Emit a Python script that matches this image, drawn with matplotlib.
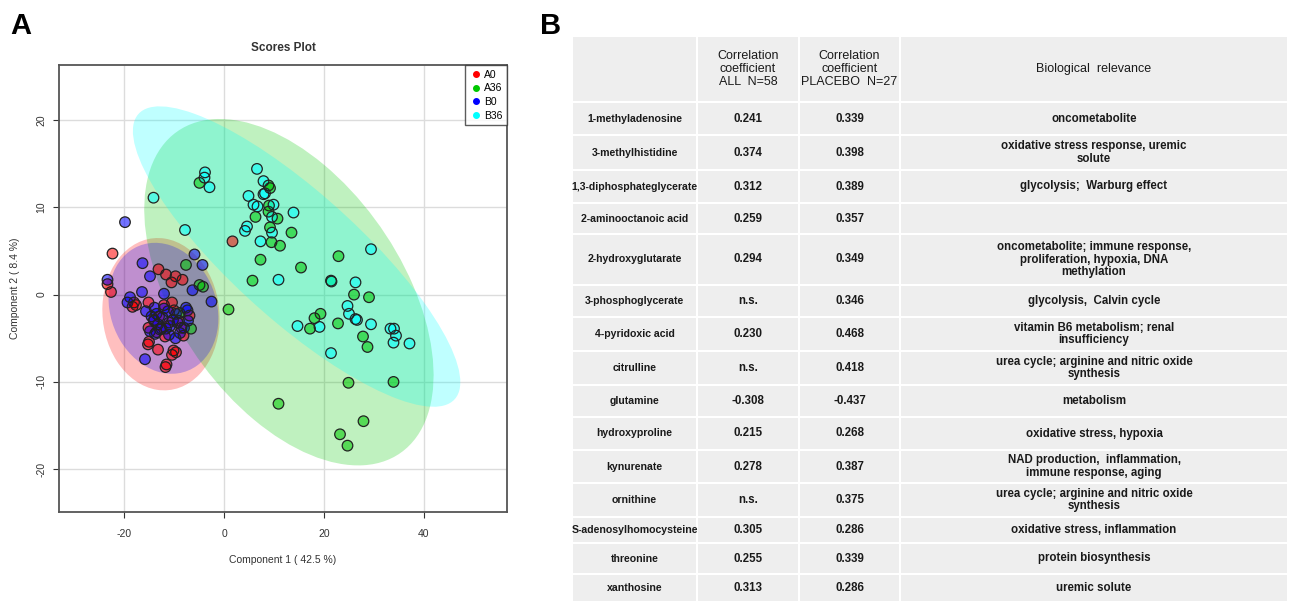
import numpy as np
import matplotlib
matplotlib.use("Agg")
import matplotlib.pyplot as plt
from matplotlib.patches import Ellipse, Rectangle

plt.rcParams["font.family"] = ["Liberation Sans", "DejaVu Sans"]
plt.rcParams["axes.unicode_minus"] = False

# ---- Panel A: PCA scores (Component 1, Component 2) ----
grupos = ["A0", "A36", "B0", "B36"]
colores = ["#ff0000", "#00c800", "#0000ff", "#00ffff"]

a0_x = [-22.3, -23.3, -22.6, -13.1, -11.6, -9.7, -10.5, -8.3, 1.7, -18.0, -18.3, -17.6,
        -15.1, -10.4, -6.9, -15.1, -11.8, -8.1, -15.2, -15.0, -13.2, -10.1, -9.6, -10.4,
        -11.7, -11.5, -13.0, -11.0, -12.5, -9.0, -14.0, -10.0, -12.0, -8.5, -13.5]
a0_y = [4.7, 1.2, 0.3, 2.9, 2.3, 2.1, 1.4, 1.7, 6.1, -0.9, -1.4, -1.2,
        -0.9, -0.9, -2.4, -3.8, -4.8, -4.7, -5.7, -5.4, -6.3, -6.4, -6.6, -6.9,
        -8.3, -8.0, -2.5, -3.2, -3.9, -3.0, -2.9, -1.8, -1.2, -3.8, -4.3]

b0_x = [-19.8, -23.3, -16.3, -14.8, -5.9, -4.3, -16.4, -12.0, -6.3, -2.5, -19.3, -18.8,
        -15.6, -13.9, -7.6, -7.3, -15.8, -9.7, -13.8, -14.0, -13.2, -12.3, -11.2, -10.2,
        -9.3, -8.0, -8.8, -11.6, -12.8, -14.5, -10.8, -9.6, -12.0, -7.2, -14.8, -11.0, -13.5]
b0_y = [8.3, 1.7, 3.6, 2.1, 4.6, 3.4, 0.3, 0.1, 0.5, -0.8, -0.9, -0.3,
        -1.9, -1.5, -1.5, -1.8, -7.4, -5.0, -4.5, -3.0, -3.4, -2.6, -1.9, -2.9,
        -3.2, -3.8, -4.4, -3.9, -4.0, -2.5, -3.6, -2.2, -1.6, -3.0, -4.2, -4.6, -2.2]

a36_x = [-4.9, 8.9, 9.2, 9.0, 8.9, 6.3, 10.7, 9.2, 13.5, 9.5, 11.2, 7.3, 15.4, 5.7,
         22.9, 21.4, 26.0, 29.0, 19.3, 18.1, 17.2, 22.8, 27.8, 28.7, 24.9, 33.9, 10.9,
         27.9, 23.2, 24.7, -7.6, -4.9, -4.2, 0.9, -6.6, -8.9]
a36_y = [12.8, 12.5, 12.2, 10.2, 9.5, 8.9, 8.7, 7.7, 7.1, 6.0, 5.6, 4.0, 3.1, 1.6,
         4.4, 1.6, 0.0, -0.3, -2.2, -2.7, -3.9, -3.3, -4.8, -6.0, -10.1, -10.0, -12.5,
         -14.5, -16.0, -17.3, 3.4, 1.1, 0.9, -1.7, -3.9, -2.1]

b36_x = [-3.8, -3.9, -2.9, -14.1, -7.8, 6.6, 7.9, 7.9, 8.2, 4.9, 5.9, 6.7, 9.9, 9.6,
         13.9, 4.6, 4.2, 9.6, 7.3, 10.9, 29.4, 21.5, 26.3, 24.7, 25.0, 26.3, 26.6, 14.7,
         19.1, 29.4, 33.3, 34.0, 34.4, 33.9, 37.1, 21.4]
b36_y = [14.0, 13.4, 12.3, 11.1, 7.4, 14.4, 13.0, 11.5, 11.6, 11.3, 10.3, 10.1, 10.3, 8.9,
         9.4, 7.8, 7.3, 7.1, 6.1, 1.7, 5.2, 1.5, 1.4, -1.3, -2.2, -2.8, -2.9, -3.6,
         -3.7, -3.4, -3.9, -3.9, -4.7, -5.5, -5.6, -6.7]

xs = [a0_x, a36_x, b0_x, b36_x]
ys = [a0_y, a36_y, b0_y, b36_y]

# ---- Panel B: table ----
encabezado = ["", "Correlation\ncoefficient\nALL  N=58", "Correlation\ncoefficient\nPLACEBO  N=27",
              "Biological  relevance"]
metabolitos = ["1-methyladenosine", "3-methylhistidine", "1,3-diphosphateglycerate",
               "2-aminooctanoic acid", "2-hydroxyglutarate", "3-phosphoglycerate",
               "4-pyridoxic acid", "citrulline", "glutamine", "hydroxyproline", "kynurenate",
               "ornithine", "S-adenosylhomocysteine", "threonine", "xanthosine"]
corr_all = ["0.241", "0.374", "0.312", "0.259", "0.294", "n.s.", "0.230", "n.s.", "-0.308",
            "0.215", "0.278", "n.s.", "0.305", "0.255", "0.313"]
corr_placebo = ["0.339", "0.398", "0.389", "0.357", "0.349", "0.346", "0.468", "0.418",
                "-0.437", "0.268", "0.387", "0.375", "0.286", "0.339", "0.286"]
relevancia = ["oncometabolite",
              "oxidative stress response, uremic\nsolute",
              "glycolysis;  Warburg effect",
              "",
              "oncometabolite; immune response,\nproliferation, hypoxia, DNA\nmethylation",
              "glycolysis,  Calvin cycle",
              "vitamin B6 metabolism; renal\ninsufficiency",
              "urea cycle; arginine and nitric oxide\nsynthesis",
              "metabolism",
              "oxidative stress, hypoxia",
              "NAD production,  inflammation,\nimmune response, aging",
              "urea cycle; arginine and nitric oxide\nsynthesis",
              "oxidative stress, inflammation",
              "protein biosynthesis",
              "uremic solute"]

fig = plt.figure(figsize=(13, 6.02), dpi=100)

# scatter axes
ax = fig.add_axes([59 / 1300, 1 - 512 / 602, 448 / 1300, 447 / 602])
ax.set_xlim(-33, 56.6)
ax.set_ylim(-24.9, 26.3)
ax.grid(True, color="#dcdcdc", linewidth=1.0)
ax.set_axisbelow(True)

k = np.sqrt(5.991)  # 95 % confidence region
for gx, gy, c in zip(xs, ys, colores):
    pts = np.column_stack([gx, gy])
    cov = np.cov(pts, rowvar=False)
    vals, vecs = np.linalg.eigh(cov)
    ang = np.degrees(np.arctan2(vecs[1, 1], vecs[0, 1]))
    e = Ellipse(pts.mean(axis=0), 2 * k * np.sqrt(vals[1]), 2 * k * np.sqrt(vals[0]),
                angle=ang, facecolor=c, alpha=0.25, edgecolor="none", zorder=1)
    ax.add_patch(e)

for gx, gy, c in zip(xs, ys, colores):
    ax.scatter(gx, gy, s=58, facecolor=c, alpha=0.55, edgecolor="none", zorder=3)
    ax.scatter(gx, gy, s=58, facecolor="none", edgecolor="#222222", linewidth=0.9, zorder=4)

ax.set_xticks([-20, 0, 20, 40])
ax.set_yticks([-20, -10, 0, 10, 20])
ax.tick_params(axis="x", labelsize=7.5, colors="#333333", length=4, pad=8)
ax.tick_params(axis="y", labelsize=7.5, colors="#333333", length=4, pad=5)
for lab in ax.get_yticklabels():
    lab.set_rotation(90)
    lab.set_va("center")
for s in ax.spines.values():
    s.set_color("#555555")
    s.set_linewidth(1.3)
ax.set_xlabel("Component 1 ( 42.5 %)", fontsize=7.5, color="#333333", labelpad=12)
ax.set_ylabel("Component 2 ( 8.4 %)", fontsize=7.5, color="#333333", labelpad=12)
ax.set_title("Scores Plot", fontsize=8.5, fontweight="bold", color="#333333", pad=10)

handles = [plt.Line2D([], [], marker="o", linestyle="", markersize=4, color=c) for c in colores]
leg = ax.legend(handles, grupos, loc="upper right", fontsize=7.5, frameon=True, fancybox=False,
                borderaxespad=0, handletextpad=0.2, labelspacing=0.35, handlelength=1.2,
                borderpad=0.45)
leg.get_frame().set_edgecolor("#333333")
leg.get_frame().set_linewidth(1.0)

fig.text(10 / 1300, 1 - 26 / 602, "A", fontsize=21, fontweight="bold", va="center")
fig.text(540 / 1300, 1 - 26 / 602, "B", fontsize=21, fontweight="bold", va="center")

# table axes (pixel-like layout units)
at = fig.add_axes([572 / 1300, 0, 716 / 1300, 566 / 602])
at.set_xlim(0, 716)
at.set_ylim(566, 0)
at.axis("off")
col_w = [125, 102, 101, 388]
row_h = [66, 33, 35, 33, 31, 51, 32, 34, 34, 32, 33, 33, 34, 26, 31, 28]
col_x = np.concatenate([[0], np.cumsum(col_w)])
row_y = np.concatenate([[0], np.cumsum(row_h)])

filas = [encabezado] + [list(f) for f in zip(metabolitos, corr_all, corr_placebo, relevancia)]
for i, fila in enumerate(filas):
    for j, texto in enumerate(fila):
        at.add_patch(Rectangle((col_x[j] + 1, row_y[i] + 1), col_w[j] - 2, row_h[i] - 2,
                               facecolor="#eeeeee", edgecolor="none"))
        if texto:
            if i == 0:
                fs = 9
            elif j == 0:
                fs = 7.6
            else:
                fs = 8.3
            at.text((col_x[j] + col_x[j + 1]) / 2, (row_y[i] + row_y[i + 1]) / 2, texto,
                    ha="center", va="center", fontsize=fs,
                    fontweight="normal" if i == 0 else "bold", color="#1a1a1a",
                    linespacing=1.1)

fig.savefig("out.png", dpi=100)
